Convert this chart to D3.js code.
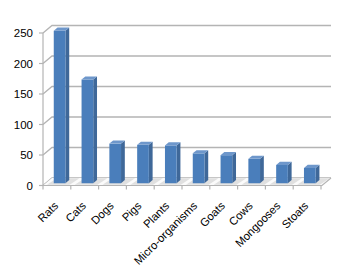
<!DOCTYPE html>
<html><head><meta charset="utf-8">
<script src="https://cdn.jsdelivr.net/npm/d3@7"></script>
<style>html,body{margin:0;padding:0;background:#fff;}svg{display:block;}</style>
</head><body>
<svg id="c" width="347" height="278"></svg>
<script>
const categories = ["Rats","Cats","Dogs","Pigs","Plants","Micro-organisms","Goats","Cows","Mongooses","Stoats"];
const values = [250,170,65,63,62,49,46,40,30,25];
const yTicks = [0,50,100,150,200,250];

const svg = d3.select("#c");
const DX = 9, DY = -7.5;          // depth offset of back wall
const x = d3.scaleBand().domain(categories).range([43, 321]).paddingInner(0.58).paddingOuter(0.29);
const xb = d3.scaleBand().domain(categories).range([43, 321]).padding(0);
const y = d3.scaleLinear().domain([0, 250]).range([185.5, 33]);
const P = (px, py, t) => [px + DX * t, py + DY * t];
const poly = pts => "M" + pts.map(p => p.join(",")).join("L") + "Z";
const grid = "#b4b4b4";

// back wall + side wall gridlines
yTicks.forEach(v => {
  const f = [43, y(v)], b = P(43, y(v), 1), e = P(322, y(v), 1);
  svg.append("path").attr("d", `M${f}L${b}L${e}`).attr("fill", "none")
    .attr("stroke", grid).attr("stroke-width", 1.3);
});

// floor
const fl = [[43, y(0)], [322, y(0)], P(322, y(0), 1), P(43, y(0), 1)];
svg.append("path").attr("d", poly(fl)).attr("fill", "#fbfbfb").attr("stroke", "none");
svg.append("path").attr("d", `M${fl[0]}L${fl[1]}L${fl[2]}`).attr("fill", "none")
  .attr("stroke", grid).attr("stroke-width", 1.2);

// shadows on floor
const t0 = 0.3, t1 = 0.72;
categories.forEach((c, i) => {
  const x0 = x(c), x1 = x(c) + x.bandwidth();
  const sh = [P(x0 - 5, y(0), t0 - 0.2), P(x1 + 6, y(0), t0 - 0.2), P(x1 + 8, y(0), t1 + 0.25), P(x0 - 3, y(0), t1 + 0.25)];
  svg.append("path").attr("d", poly(sh)).attr("fill", "#d4d4d4").attr("opacity", 0.7);
});

// bars
categories.forEach((c, i) => {
  const x0 = x(c), x1 = x(c) + x.bandwidth(), yt = y(values[i]), yb = y(0);
  const front = [P(x0, yt, t0), P(x1, yt, t0), P(x1, yb, t0), P(x0, yb, t0)];
  const side = [P(x1, yt, t0), P(x1, yt, t1), P(x1, yb, t1), P(x1, yb, t0)];
  const top = [P(x0, yt, t0), P(x0, yt, t1), P(x1, yt, t1), P(x1, yt, t0)];
  svg.append("path").attr("d", poly(side)).attr("fill", "#3f6899");
  svg.append("path").attr("d", poly(front)).attr("fill", "#4a7ebb");
  svg.append("path").attr("d", poly(top)).attr("fill", "#6e97cb");
});

// front vertical axis
svg.append("line").attr("x1", 43).attr("x2", 43).attr("y1", y(250)).attr("y2", y(0))
  .attr("stroke", grid).attr("stroke-width", 1.2);
yTicks.forEach(v => {
  svg.append("line").attr("x1", 39).attr("x2", 43).attr("y1", y(v)).attr("y2", y(v))
    .attr("stroke", grid).attr("stroke-width", 1.2);
  svg.append("text").attr("x", 33).attr("y", y(v)).attr("dy", "0.36em")
    .attr("text-anchor", "end").attr("font-family", "Liberation Sans, Arial, sans-serif")
    .attr("font-size", 11.5).attr("fill", "#000").text(v);
});

// x ticks
categories.concat(["_end"]).forEach((c, i) => {
  const px = i < categories.length ? xb(c) : 321;
  svg.append("line").attr("x1", px).attr("x2", px).attr("y1", y(0)).attr("y2", y(0) + 4)
    .attr("stroke", grid).attr("stroke-width", 1.2);
});

// x labels
categories.forEach(c => {
  const cx = xb(c) + xb.bandwidth() / 2;
  svg.append("text").attr("transform", `translate(${cx + 2},${y(0) + 21}) rotate(-45)`)
    .attr("text-anchor", "end").attr("font-family", "Liberation Sans, Arial, sans-serif")
    .attr("font-size", 11.3).attr("fill", "#000").text(c);
});
</script>
</body></html>
